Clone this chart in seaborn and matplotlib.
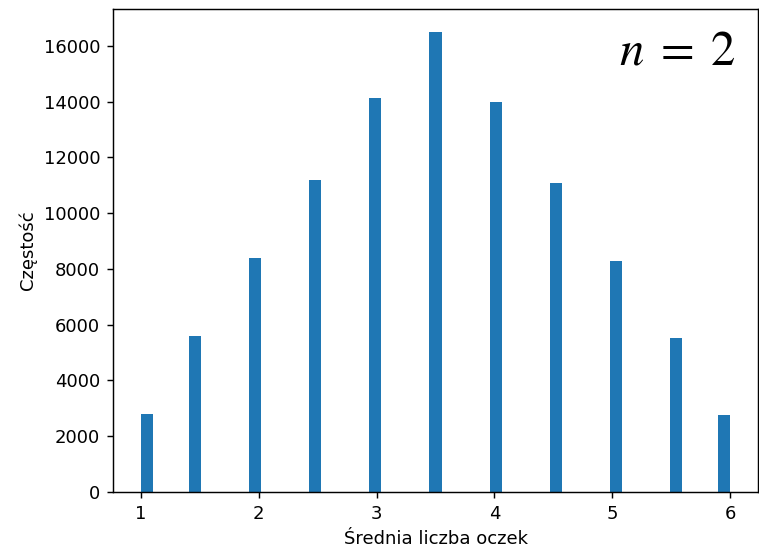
import matplotlib
matplotlib.use("Agg")
import matplotlib.pyplot as plt
import seaborn as sns
import pandas as pd

# Means of two dice and their observed frequencies
means = [1.0, 1.5, 2.0, 2.5, 3.0, 3.5, 4.0, 4.5, 5.0, 5.5, 6.0]
counts = [2810, 5580, 8380, 11180, 14120, 16490, 13980, 11100, 8290, 5530, 2770]
x_label = "Średnia liczba oczek"
y_label = "Częstość"
annotation = r"$n\;=\;2$"

df = pd.DataFrame({"mean": means, "count": counts})

plt.rcParams["mathtext.fontset"] = "stix"

W, H, DPI = 759, 551, 130
fig = plt.figure(figsize=(W / DPI, H / DPI), dpi=DPI)
ax = fig.add_axes([113 / W, (H - 492) / H, (758 - 113) / W, (492 - 9) / H])

sns.histplot(data=df, x="mean", weights="count", bins=49, binrange=(1, 6),
             color="#1f77b4", alpha=1, linewidth=0, ax=ax)

ax.set_xlim(0.762, 6.238)
ax.set_ylim(0, 17327)
ax.set_xticks([1, 2, 3, 4, 5, 6])
ax.set_yticks(range(0, 16001, 2000))
ax.set_xlabel(x_label)
ax.set_ylabel(y_label)
ax.text(0.965, 0.915, annotation, transform=ax.transAxes, ha="right", va="center",
        fontsize=27)

fig.savefig("out.png", dpi=DPI)
